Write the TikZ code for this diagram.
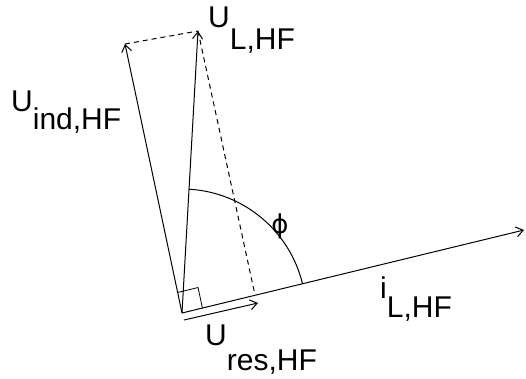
\documentclass[tikz,border=0pt]{standalone}
\usepackage{fontspec}
\setmainfont{Liberation Sans}
\newfontfamily\greekfont{DejaVu Sans}
\usetikzlibrary{arrows.meta, calc}

\begin{document}
\begin{tikzpicture}[
  x=1pt, y=-1pt,
  vec/.style={-{Straight Barb[length=7pt, width=10pt]}, line width=1pt},
  aux/.style={dash pattern=on 5pt off 4pt, line width=1pt},
  lbl/.style={inner sep=0pt, font=\fontsize{30}{34}\selectfont},
]
  \useasboundingbox (0,0) rectangle (526,378);
  % phasor end points
  \coordinate (O)    at (182,313);
  \coordinate (iT)   at (524,230);
  \coordinate (indT) at (125,44);
  \coordinate (LT)   at (198,31);
  \coordinate (resT) at (255,295);
  \coordinate (resA) at (184,320);
  \coordinate (resB) at (258,303);

  \draw[vec] (O) -- (iT);
  \draw[vec] (O) -- (indT);
  \draw[vec] (O) -- (LT);
  \draw[vec] (resA) -- (resB);
  \draw[aux] (indT) -- (LT);
  \draw[aux] (LT) -- (resT);

  % right angle
  \coordinate (sqA) at ($(O)!21pt!(iT)$);
  \coordinate (sqB) at ($(O)!21pt!(indT)$);
  \draw[line width=0.8pt] (sqA) -- ($(sqA)+(sqB)-(O)$) -- (sqB);

  % phase angle
  \draw[line width=1pt] ([shift={(-13.6:124)}]O) arc[start angle=-13.6, end angle=-86.8, radius=124];

  \node[lbl, anchor=base west] (uL)   at (208,27)  {U\raisebox{-22pt}{L,HF}};
  \node[lbl, anchor=base west] (uind) at (11,111)  {U\raisebox{-18pt}{ind,HF}};
  \node[lbl, anchor=base west] (iL)   at (380,298) {i\raisebox{-19pt}{L,HF}};
  \node[lbl, anchor=base west] (ures) at (205,345) {U\raisebox{-25pt}{res,HF}};
  \node[lbl, font=\greekfont\fontsize{26}{30}\selectfont] (phi) at (280,226) {ϕ};
\end{tikzpicture}
\end{document}
